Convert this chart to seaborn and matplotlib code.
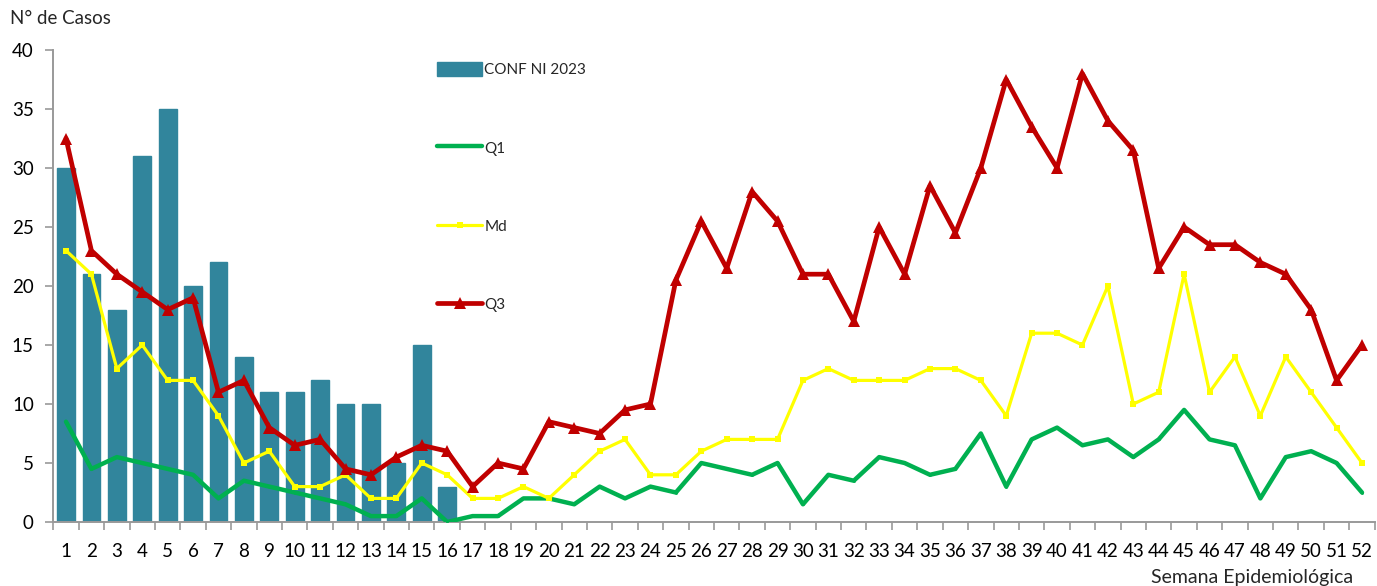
import matplotlib
matplotlib.use("Agg")
import matplotlib.pyplot as plt
import seaborn as sns
import numpy as np
import pandas as pd

weeks = list(range(1, 53))
conf_weeks = list(range(1, 17))
conf_ni_2023 = [30, 21, 18, 31, 35, 20, 22, 14, 11, 11, 12, 10, 10, 5, 15, 3]
q1 = [8.5, 4.5, 5.5, 5, 4.5, 4, 2, 3.5, 3, 2.5, 2, 1.5, 0.5, 0.5, 2, 0,
      0.5, 0.5, 2, 2, 1.5, 3, 2, 3, 2.5, 5, 4.5, 4, 5, 1.5, 4, 3.5, 5.5, 5,
      4, 4.5, 7.5, 3, 7, 8, 6.5, 7, 5.5, 7, 9.5, 7, 6.5, 2, 5.5, 6, 5, 2.5]
md = [23, 21, 13, 15, 12, 12, 9, 5, 6, 3, 3, 4, 2, 2, 5, 4,
      2, 2, 3, 2, 4, 6, 7, 4, 4, 6, 7, 7, 7, 12, 13, 12, 12, 12,
      13, 13, 12, 9, 16, 16, 15, 20, 10, 11, 21, 11, 14, 9, 14, 11, 8, 5]
q3 = [32.5, 23, 21, 19.5, 18, 19, 11, 12, 8, 6.5, 7, 4.5, 4, 5.5, 6.5, 6,
      3, 5, 4.5, 8.5, 8, 7.5, 9.5, 10, 20.5, 25.5, 21.5, 28, 25.5, 21, 21, 17, 25, 21,
      28.5, 24.5, 30, 37.5, 33.5, 30, 38, 34, 31.5, 21.5, 25, 23.5, 23.5, 22, 21, 18, 12, 15]

sns.set_theme(style="white")
plt.rcParams['font.family'] = ['Lato', 'DejaVu Sans']

fig = plt.figure(figsize=(13.77, 5.86), dpi=100)
ax = fig.add_axes([53.3 / 1377, 1 - 522 / 586, (1374.7 - 53.3) / 1377, (522 - 50) / 586])

bars_df = pd.DataFrame({"week": conf_weeks, "val": conf_ni_2023})
sns.barplot(data=bars_df, x="week", y="val", native_scale=True, color="#31859C",
            saturation=1, width=0.7, ax=ax, label="CONF NI 2023", zorder=1,
            edgecolor="#31859C", linewidth=1.0)

lines_df = pd.DataFrame({"week": weeks, "Q1": q1, "Md": md, "Q3": q3})
sns.lineplot(data=lines_df, x="week", y="Q1", color="#00B050", linewidth=3.2,
             marker="o", markersize=2, markeredgewidth=0, ax=ax, label="Q1", zorder=3)
sns.lineplot(data=lines_df, x="week", y="Md", color="#FFFF00", linewidth=2.3,
             marker="s", markersize=4.5, markeredgewidth=0, ax=ax, label="Md", zorder=4)
sns.lineplot(data=lines_df, x="week", y="Q3", color="#C00000", linewidth=3.4,
             marker="^", markersize=8, markeredgewidth=0, ax=ax, label="Q3", zorder=5)

ax.set_xlim(0.5, 52.5)
ax.set_ylim(0, 40)
ax.set_xlabel("")
ax.set_ylabel("")
ax.set_xticks(weeks)
ax.set_xticklabels([str(w) for w in weeks])
ax.set_xticks(np.arange(0.5, 53, 1), minor=True)
ax.set_yticks(range(0, 41, 5))
ax.tick_params(axis="x", which="major", bottom=True, length=0, pad=15, labelsize=13.5, colors="#000000")
ax.tick_params(axis="x", which="minor", bottom=True, length=6, width=1.2, color="#999999", direction="out")
ax.tick_params(axis="y", which="major", left=True, length=6, width=1.2, color="#999999", direction="out",
               labelsize=13.5, pad=8, labelcolor="#000000")
for s in ["top", "right"]:
    ax.spines[s].set_visible(False)
for s in ["left", "bottom"]:
    ax.spines[s].set_color("#999999")
    ax.spines[s].set_linewidth(1.4)

handles, labels = ax.get_legend_handles_labels()
order = [labels.index(l) for l in ["CONF NI 2023", "Q1", "Md", "Q3"]]
leg = ax.legend([handles[i] for i in order], [labels[i] for i in order],
                loc="upper left", bbox_to_anchor=(437 / 1377, 1 - 62 / 586),
                bbox_transform=fig.transFigure, frameon=False, fontsize=11,
                labelspacing=4.12, handlelength=2.95, handleheight=1.05, handletextpad=0.15,
                borderpad=0, borderaxespad=0)

fig.text(10 / 1377, 1 - 18 / 586, "N° de Casos", fontsize=13.5, ha="left", va="center")
fig.text(1353 / 1377, 1 - 578 / 586, "Semana Epidemiológica", fontsize=14, ha="right", va="center")

fig.savefig("out.png", dpi=100)
